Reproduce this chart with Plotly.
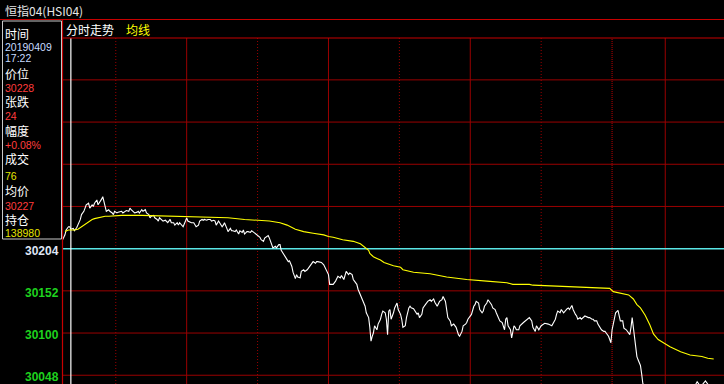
import plotly.graph_objects as go

# ---------------- data ----------------
# minutes since 17:15 (night session 17:15-01:00, then day session from 09:15 = minute 465)
price_min = [0,2,3,5,6,7,9,10,12,13,15,16,18,19,20,22,23,25,26,27,29,30,32,33,34,35,36,37,39,40,
             42,43,44,46,47,50,51,53,54,56,57,58,60,61,63,64,65,67,68,70,71,73,74,75,77,78,80,81,82,84,
             85,87,88,89,91,92,94,95,97,98,99,101,102,104,105,106,108,109,111,112,113,115,116,118,119,120,122,123,125,126,
             128,129,130,132,133,135,136,137,139,140,142,143,144,146,147,149,150,152,153,154,156,157,159,160,161,163,164,166,167,168,
             170,171,173,174,175,177,178,180,181,183,184,185,187,188,190,191,192,194,195,197,198,199,201,202,204,205,207,208,209,211,
             212,214,215,216,218,219,221,222,223,225,226,228,229,231,232,233,235,236,238,239,240,242,243,245,246,247,249,250,252,253,
             254,256,257,259,260,261,262,263,264,266,267,269,270,271,273,274,275,276,277,278,280,281,283,284,286,287,288,290,291,293,
             294,295,297,298,300,301,302,304,305,307,308,309,311,312,314,315,317,318,319,321,322,324,325,326,328,329,331,332,333,335,
             336,338,339,341,342,343,345,346,348,349,350,352,353,355,356,357,359,360,362,363,364,366,367,369,370,372,373,374,375,376,
             377,379,380,381,382,383,384,386,387,390,393,395,397,398,400,401,403,404,405,408,411,414,415,417,418,419,421,422,424,425,
             427,428,429,431,432,434,435,436,438,439,441,442,445,446,448,449,450,452,453,455,456,458,459,460,462,463,464,465,467,468,
             470,471,472,474,475,477,478,480,481,482,483,484,485,486,487,489,490,491,493,496,500,505,510,515,520,525,530,534,537,540,
             544,547,551]
price_val = [30215,30221,30227,30231,30231,30228,30229,30226,30230,30233,30240,30246,30250,30254,30258,30260,30254,30258,30256,30260,
             30264,30258,30262,30265,30268,30262,30254,30250,30252,30250,30248,30246,30250,30248,30249,30250,30248,30250,30251,30250,
             30254,30252,30250,30248,30249,30250,30248,30252,30250,30252,30248,30246,30242,30244,30245,30242,30240,30238,30242,30240,
             30238,30239,30238,30236,30240,30236,30236,30233,30236,30233,30236,30233,30231,30238,30242,30238,30236,30236,30236,30233,
             30231,30233,30238,30240,30239,30240,30239,30240,30240,30238,30239,30238,30233,30238,30236,30231,30233,30236,30229,30225,
             30229,30226,30226,30225,30227,30222,30226,30224,30227,30222,30225,30225,30224,30226,30225,30223,30221,30220,30218,30215,
             30213,30217,30219,30220,30217,30207,30205,30207,30205,30209,30209,30202,30197,30194,30190,30188,30189,30182,30175,30167,
             30172,30169,30168,30176,30178,30176,30178,30180,30183,30186,30188,30186,30188,30188,30187,30187,30184,30181,30177,30172,
             30160,30160,30160,30164,30168,30170,30168,30171,30166,30172,30176,30172,30174,30172,30166,30164,30160,30154,30147,30143,
             30139,30133,30125,30119,30107,30090,30096,30100,30109,30104,30111,30117,30123,30127,30125,30117,30098,30127,30129,30117,
             30125,30131,30137,30129,30123,30117,30107,30109,30119,30131,30133,30131,30130,30127,30123,30125,30119,30123,30131,30135,
             30137,30139,30141,30139,30142,30138,30133,30137,30139,30141,30145,30139,30131,30119,30115,30109,30111,30109,30107,30098,
             30096,30102,30109,30111,30113,30117,30121,30123,30133,30135,30139,30137,30129,30125,30127,30133,30137,30141,30137,30135,
             30131,30129,30125,30117,30115,30113,30109,30104,30117,30119,30109,30104,30094,30102,30109,30107,30104,30104,30109,30113,
             30117,30119,30115,30107,30102,30109,30104,30107,30109,30112,30111,30109,30112,30117,30123,30127,30125,30129,30125,30127,
             30130,30131,30129,30134,30129,30123,30121,30117,30119,30117,30119,30121,30119,30119,30117,30117,30115,30115,30111,30107,
             30104,30102,30102,30100,30096,30092,30088,30104,30121,30125,30128,30123,30115,30115,30106,30104,30102,30098,30107,30119,
             30107,30095,30079,30071,30067,30060,30050,30038,30032,30026,30022,30018,30024,30020,30026,30030,30033,30032,30040,30034,
             30041,30035,30032]

avg_min = [2,5,7,10,13,16,19,22,25,27,30,33,36,39,50,67,87,107,114,140,154,167,175,184,190,197,204,212,221,225,
           229,237,246,252,256,259,260,263,266,269,272,274,280,286,288,297,311,325,342,359,376,381,395,398,418,445,463,466,472,479,
           483,486,489,493,497,500,504,510,514,523,531,541,546,551]
avg_val = [30225,30227,30227,30227,30228,30231,30235,30238,30240,30241,30242,30243,30244,30244,30245,30245,30244,30243,30243,30242,
           30240,30239,30238,30236,30233,30228,30225,30223,30221,30219,30218,30215,30213,30210,30206,30202,30198,30194,30192,30190,
           30187,30186,30183,30181,30178,30175,30173,30169,30166,30164,30162,30160,30160,30159,30158,30156,30155,30151,30149,30147,
           30142,30135,30131,30122,30110,30099,30092,30087,30083,30077,30073,30071,30069,30068]

prev_close = 30204
grid_prices = [30412, 30360, 30308, 30256, 30152, 30100, 30048]
label_prices = [30204, 30152, 30100, 30048]
hour_dotted = [45, 165, 285, 405]      # 18:00, 20:00, 22:00, 24:00
hour_solid = [105, 225, 345, 510]      # 19:00, 21:00, 23:00, 10:00
session_break = [465]                  # 01:00 / 09:15
cursor_min = 7                         # 17:22

title = "恒指04(HSI04)"
info_rows = [("时间", "20190409", "17:22"), ("价位", "30228"), ("张跌", "24"), ("幅度", "+0.08%"),
             ("成交", "76"), ("均价", "30227"), ("持仓", "138980")]

# ---------------- layout helpers ----------------
W, H = 724, 384
L, T = 62, 38
PW, PH = W - L, H - T

def px(xp):
    return (xp - L) / PW

def py(yp):
    return (H - yp) / PH

GRID = "#9a0000"
BORDER = "#c80000"
CJK = "Noto Sans CJK SC"

fig = go.Figure()
fig.add_trace(go.Scatter(x=price_min, y=price_val, mode="lines",
                         line=dict(color="#ffffff", width=1.1), hoverinfo="skip"))
fig.add_trace(go.Scatter(x=avg_min, y=avg_val, mode="lines",
                         line=dict(color="#ffff00", width=1.1), hoverinfo="skip"))

shapes = []
for g in grid_prices:
    shapes.append(dict(type="line", xref="paper", yref="y", x0=0, x1=1, y0=g, y1=g,
                       line=dict(color=GRID, width=1), layer="below"))
for m in hour_dotted:
    shapes.append(dict(type="line", xref="x", yref="paper", x0=m, x1=m, y0=0, y1=1,
                       line=dict(color=GRID, width=1, dash="1px,2px"), layer="below"))
for m in session_break:
    shapes.append(dict(type="line", xref="x", yref="paper", x0=m, x1=m, y0=0, y1=1,
                       line=dict(color=GRID, width=1.2, dash="1px,1px"), layer="below"))
for m in hour_solid:
    shapes.append(dict(type="line", xref="x", yref="paper", x0=m, x1=m, y0=0, y1=1,
                       line=dict(color=GRID, width=1), layer="below"))
# previous close line
shapes.append(dict(type="line", xref="paper", yref="y", x0=0, x1=1, y0=prev_close, y1=prev_close,
                   line=dict(color="#5ae6e6", width=1.5), layer="below"))
# cursor
shapes.append(dict(type="line", xref="x", yref="paper", x0=cursor_min, x1=cursor_min, y0=0, y1=1,
                   line=dict(color="#ffffff", width=1.2), layer="below"))
# frame lines
shapes.append(dict(type="line", xref="paper", yref="paper", x0=px(0), x1=1, y0=py(19.5), y1=py(19.5),
                   line=dict(color=BORDER, width=1.2)))
shapes.append(dict(type="line", xref="paper", yref="paper", x0=0, x1=1, y0=1, y1=1,
                   line=dict(color=BORDER, width=1.2)))
shapes.append(dict(type="line", xref="paper", yref="paper", x0=px(62.5), x1=px(62.5), y0=0, y1=py(19.5),
                   line=dict(color=BORDER, width=1.2)))
# info box
shapes.append(dict(type="rect", xref="paper", yref="paper", x0=px(2.5), x1=px(61.5), y0=py(239), y1=py(21),
                   line=dict(color="#c8c8c8", width=1), fillcolor="#000000"))

ann = []
ann.append(dict(text=title, xref="paper", yref="paper", x=px(3), y=py(10.5), xanchor="left", yanchor="middle",
                showarrow=False, font=dict(family=CJK, size=12, color="#e6e6e6")))
ann.append(dict(text="分时走势", xref="paper", yref="paper", x=px(64), y=py(29.5), xanchor="left", yanchor="middle",
                showarrow=False, font=dict(family=CJK, size=12, color="#ffffff")))
ann.append(dict(text="均线", xref="paper", yref="paper", x=px(124), y=py(29.5), xanchor="left", yanchor="middle",
                showarrow=False, font=dict(family=CJK, size=12, color="#ffff00")))

# info panel: each label with its value(s) as one block of text
value_colors = ["#c8dcff", "#ff3c3c", "#ff3c3c", "#ff3c3c", "#e6e600", "#ff3c3c", "#e6e600"]
block_center = [44.5, 79.75, 108, 136.5, 165.5, 196.5, 225]
line_gap = [11.5, 12.5, 13, 13, 15.5, 14, 11.7]
for i, row in enumerate(info_rows):
    parts = ['<span style="font-family:\'%s\';font-size:12px;color:#ffffff">%s</span>' % (CJK, row[0])]
    for v in row[1:]:
        parts.append('<span style="font-family:\'Liberation Sans\';font-size:10.5px;color:%s">%s</span>'
                     % (value_colors[i], v))
    ann.append(dict(text="<br>".join(parts), xref="paper", yref="paper", x=px(4), y=py(block_center[i]),
                    xanchor="left", yanchor="middle", align="left", showarrow=False, borderpad=0,
                    font=dict(family=CJK, size=line_gap[i] / 1.3, color="#ffffff")))

for p in label_prices:
    col = "#dfe6f5" if p == prev_close else "#1ed21e"
    ann.append(dict(text="<b>%d</b>" % p, xref="paper", yref="y", x=0, xshift=-1, y=p, yshift=-2,
                    xanchor="right", yanchor="middle", showarrow=False,
                    font=dict(family="Liberation Sans", size=12, color=col)))

x_per_px = 1 / 1.1817
fig.update_layout(
    width=W, height=H, margin=dict(l=L, r=0, t=T, b=0, pad=0),
    paper_bgcolor="#000000", plot_bgcolor="#000000", showlegend=False,
    xaxis=dict(range=[-0.5, -0.5 + PW * x_per_px], showgrid=False, zeroline=False, showticklabels=False,
               showline=False, ticks=""),
    yaxis=dict(range=[30037.2, 30463.6], showgrid=False, zeroline=False, showticklabels=False,
               showline=False, ticks=""),
    shapes=shapes, annotations=ann,
)
fig.write_html("out.html", config={"displayModeBar": False})
